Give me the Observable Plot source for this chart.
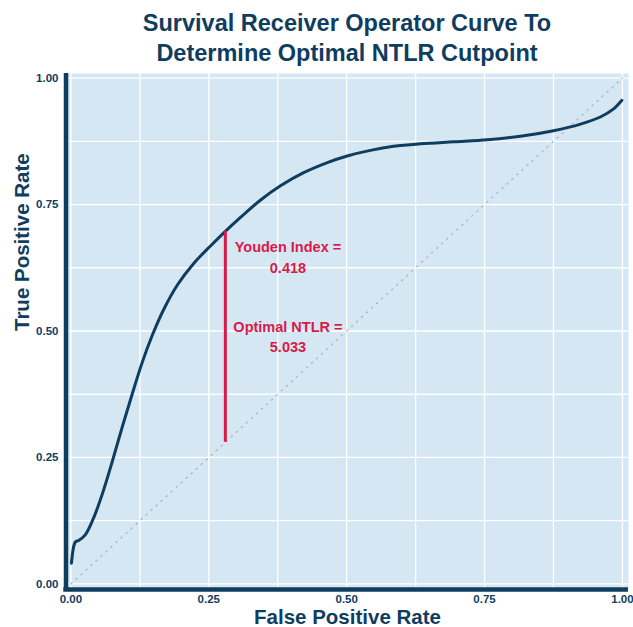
<!DOCTYPE html>
<html>
<head>
<meta charset="utf-8">
<script src="https://cdn.jsdelivr.net/npm/d3@7"></script>
<script src="https://cdn.jsdelivr.net/npm/@observablehq/plot@0.6"></script>
<style>
  body { margin: 0; background: #fff; font-family: "Liberation Sans", Arial, sans-serif; }
  #title { width: 633px; box-sizing: border-box; padding-left: 61px; padding-top: 8px; height: 70px;
    text-align: center; font-weight: bold; font-size: 23.5px; line-height: 30px; color: #0f3d60; }
</style>
</head>
<body>
<div id="title"></div>
<div id="chart"></div>
<script>
const titleLines = ["Survival Receiver Operator Curve To", "Determine Optimal NTLR Cutpoint"];
const fpr = [0.001, 0.008, 0.014, 0.026, 0.041, 0.057, 0.075, 0.093, 0.111, 0.129, 0.147, 0.168, 0.193, 0.223, 0.253, 0.280, 0.307, 0.344, 0.380, 0.422, 0.465, 0.501, 0.543, 0.585, 0.634, 0.694, 0.755, 0.815, 0.875, 0.924, 0.960, 0.984, 0.999];
const tpr = [0.041, 0.083, 0.086, 0.097, 0.130, 0.178, 0.242, 0.310, 0.375, 0.437, 0.490, 0.542, 0.591, 0.634, 0.668, 0.697, 0.724, 0.759, 0.787, 0.813, 0.833, 0.846, 0.857, 0.865, 0.870, 0.874, 0.878, 0.885, 0.896, 0.909, 0.923, 0.939, 0.956];
const youdenX = 0.28;
const youdenLow = 0.28;
const youdenHigh = 0.697;
const youdenIndex = "0.418";
const optimalNTLR = "5.033";
const annotationLines = ["Youden Index =", youdenIndex, "Optimal NTLR =", optimalNTLR];
const annotationY = [0.6655, 0.623, 0.5075, 0.468];
const tickValues = [0, 0.25, 0.5, 0.75, 1];
const gridValues = [0, 0.125, 0.25, 0.375, 0.5, 0.625, 0.75, 0.875, 1];
const xTitle = "False Positive Rate";
const yTitle = "True Positive Rate";

document.getElementById("title").innerHTML = titleLines.join("<br>");

const curve = fpr.map((x, i) => ({x, y: tpr[i]}));
const annotations = annotationLines.map((t, i) => ({t, y: annotationY[i]}));
const navy = "#0f3d60";
const red = "#d91a48";
const xDom = [-0.008, 1.011];
const yDom = [-0.009, 1.009];

const chart = Plot.plot({
  width: 633,
  height: 557,
  marginLeft: 66,
  marginRight: 5,
  marginTop: 3,
  marginBottom: 39,
  style: {fontFamily: "Liberation Sans, Arial, sans-serif", background: "transparent"},
  x: {domain: xDom},
  y: {domain: yDom},
  marks: [
    Plot.frame({fill: "#d6e7f4", stroke: null}),
    Plot.ruleX(gridValues, {stroke: "white", strokeWidth: 1.3}),
    Plot.ruleY(gridValues, {stroke: "white", strokeWidth: 1.3}),
    Plot.axisX({ticks: tickValues, tickFormat: d3.format(".2f"), tickSize: 0, tickPadding: 6.5,
      fontSize: 11.5, fontWeight: "bold", fill: navy, label: null}),
    Plot.axisY({ticks: tickValues, tickFormat: d3.format(".2f"), tickSize: 0, tickPadding: 8,
      fontSize: 11.5, fontWeight: "bold", fill: navy, label: null}),
    Plot.line([{x: 0, y: 0}, {x: 1, y: 1}], {x: "x", y: "y", stroke: "#a9b4bd", strokeWidth: 1.3, strokeDasharray: "1.3,5.5", strokeLinecap: "round"}),
    Plot.line(curve, {x: "x", y: "y", stroke: navy, strokeWidth: 3, curve: "catmull-rom"}),
    Plot.ruleX([youdenX], {y1: youdenLow, y2: youdenHigh, stroke: red, strokeWidth: 3}),
    Plot.text(annotations, {x: 0.3935, y: "y", text: "t", fill: red, fontSize: 14.5, fontWeight: "bold"}),
    Plot.ruleX([xDom[0]], {y1: yDom[0], y2: yDom[1], stroke: navy, strokeWidth: 4.5, dx: -0.5}),
    Plot.ruleY([yDom[0]], {x1: -0.013, x2: xDom[1], stroke: navy, strokeWidth: 4.5, dy: 1}),
    Plot.text([xTitle], {frameAnchor: "bottom", dy: 35, fill: navy, fontSize: 20.5, fontWeight: "bold"}),
    Plot.text([yTitle], {frameAnchor: "left", dx: -44, rotate: -90, fill: navy, fontSize: 20.5, fontWeight: "bold"})
  ]
});
document.getElementById("chart").appendChild(chart);
</script>
</body>
</html>
